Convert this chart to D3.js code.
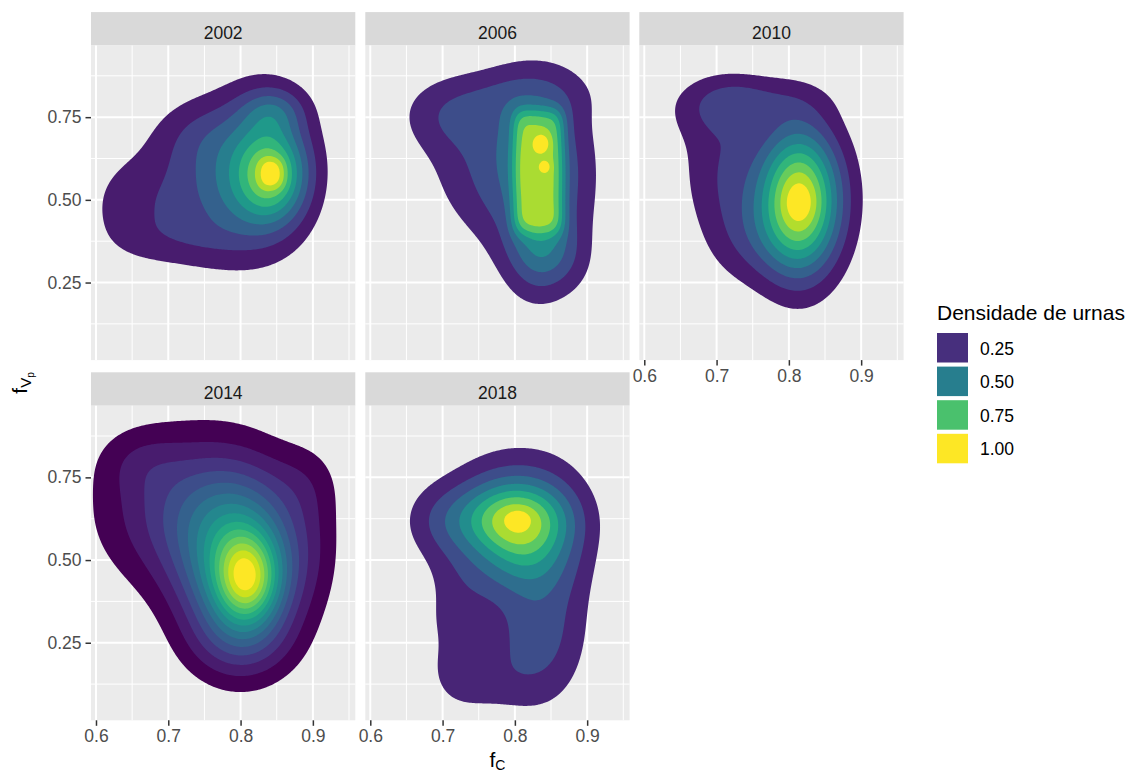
<!DOCTYPE html>
<html><head><meta charset="utf-8">
<script src="https://cdn.jsdelivr.net/npm/d3@7"></script>
<style>
body{margin:0;background:#fff}
text{font-family:"Liberation Sans",Arial,sans-serif}
</style>
</head><body>
<svg id="chart" width="1129" height="773"></svg>
<script>
// ---------------- data ----------------
const years = ["2002", "2006", "2010", "2014", "2018"];
// number of filled density bands drawn in each facet
const bandCounts = [9, 8, 9, 14, 8];
// round clusters of ballot boxes: [fC centre, fVp centre, spread fC, spread fVp, weight]
const clusters2002 = [
  [0.845, 0.575, 0.032, 0.095, 0.50],
  [0.83, 0.60, 0.05, 0.16, 0.42],
  [0.76, 0.52, 0.06, 0.15, 0.25],
  [0.845, 0.77, 0.03, 0.05, 0.22],
  [0.65, 0.48, 0.05, 0.12, 0.15],
  [0.74, 0.70, 0.045, 0.08, 0.12],
  [0.72, 0.38, 0.06, 0.05, 0.065]
];
const clusters2006 = [
  [0.83, 0.58, 0.05, 0.20, 0.35],
  [0.755, 0.60, 0.06, 0.15, 0.18],
  [0.82, 0.82, 0.06, 0.06, 0.13],
  [0.71, 0.76, 0.05, 0.08, 0.18],
  [0.835, 0.36, 0.03, 0.07, 0.28],
  [0.83, 0.25, 0.03, 0.07, 0.08],
  [0.88, 0.55, 0.03, 0.20, 0.05],
  [0.875, 0.30, 0.03, 0.07, 0.06],
  [0.837, 0.672, 0.008, 0.02, 0.20],
  [0.842, 0.60, 0.005, 0.012, 0.16]
];
const clusters2010 = [
  [0.815, 0.495, 0.038, 0.15, 0.80],
  [0.80, 0.51, 0.07, 0.18, 0.12],
  [0.816, 0.49, 0.015, 0.04, 0.06],
  [0.705, 0.60, 0.04, 0.14, 0.14],
  [0.685, 0.77, 0.045, 0.07, 0.10],
  [0.77, 0.80, 0.06, 0.05, 0.08],
  [0.73, 0.82, 0.04, 0.05, 0.08],
  [0.74, 0.38, 0.04, 0.10, 0.10]
];
const clusters2014 = [
  [0.81, 0.44, 0.03, 0.09, 0.35],
  [0.80, 0.47, 0.055, 0.17, 0.45],
  [0.735, 0.65, 0.085, 0.16, 0.21],
  [0.90, 0.55, 0.03, 0.15, 0.04],
  [0.80, 0.25, 0.05, 0.08, 0.08],
  [0.66, 0.80, 0.04, 0.07, 0.05],
  [0.89, 0.74, 0.035, 0.08, 0.04]
];
const clusters2018 = [
  [0.80, 0.625, 0.048, 0.07, 0.40],
  [0.80, 0.62, 0.06, 0.13, 0.40],
  [0.815, 0.50, 0.04, 0.08, 0.15],
  [0.825, 0.25, 0.045, 0.14, 0.21],
  [0.72, 0.18, 0.04, 0.12, 0.12],
  [0.77, 0.13, 0.04, 0.06, 0.05],
  [0.70, 0.62, 0.04, 0.08, 0.15],
  [0.73, 0.44, 0.04, 0.08, 0.09],
  [0.71, 0.33, 0.03, 0.06, 0.04],
  [0.86, 0.45, 0.04, 0.20, 0.10],
  [0.805, 0.627, 0.01, 0.015, 0.08]
];
// evenly spread blocks of ballot boxes: [fC from, fC to, fVp from, fVp to, edge fC, edge fVp, weight]
const blocks2002 = [[0.829, 0.859, 0.54, 0.62, 0.008, 0.018, 0.21]];
const blocks2006 = [[0.799, 0.866, 0.405, 0.768, 0.009, 0.028, 0.52]];
const blocksByYear = [blocks2002, blocks2006, [], [], []];
const clustersByYear = [clusters2002, clusters2006, clusters2010, clusters2014, clusters2018];
const xTicks = [0.6, 0.7, 0.8, 0.9];
const xMinor = [0.65, 0.75, 0.85, 0.95];
const yTicks = [0.25, 0.5, 0.75];
const yMinor = [0.125, 0.375, 0.625, 0.875];
const legendValues = [0.25, 0.5, 0.75, 1.0];
const legendTitle = "Densidade de urnas";

// ---------------- layout ----------------
const svg = d3.select("#chart");
const colLeft = [91, 365.3, 639.3];
const rowTop = [45.5, 405.7];
const panelW = 264.3, panelH = 314.6, stripH = 33.4;
const xDomain = [0.5931, 0.9587];
const yDomain = [0.0155, 0.9667];
const tickFont = 17.5, titleFont = 21;

// colour: normalised level of each band
const nlevels = bandCounts.map(K => d3.range(1, K + 1).map(k => (k + 1) / (K + 1)));
const minLevel = d3.min(nlevels.flat());
const color = d3.scaleSequential(d3.interpolateViridis).domain([minLevel, 1]);

function erf(z) {
  const s = z < 0 ? -1 : 1; z = Math.abs(z);
  const t = 1 / (1 + 0.3275911 * z);
  const p = t * (0.254829592 + t * (-0.284496736 + t * (1.421413741 + t * (-1.453152027 + t * 1.061405429))));
  return s * (1 - p * Math.exp(-z * z));
}
const Phi = z => 0.5 * (1 + erf(z / Math.SQRT2));

function dens(comps, blocks, x, y) {
  let s = 0;
  for (const [cx, cy, sx, sy, w] of comps) {
    const dx = (x - cx) / sx, dy = (y - cy) / sy;
    s += w * Math.exp(-0.5 * (dx * dx + dy * dy));
  }
  for (const [x0, x1, y0, y1, bx, by, w] of blocks) {
    s += w * (Phi((x - x0) / bx) - Phi((x - x1) / bx)) * (Phi((y - y0) / by) - Phi((y - y1) / by));
  }
  return s;
}

years.forEach((yr, i) => {
  const col = i % 3, row = Math.floor(i / 3);
  const left = colLeft[col], top = rowTop[row];
  const x = d3.scaleLinear().domain(xDomain).range([0, panelW]);
  const y = d3.scaleLinear().domain(yDomain).range([panelH, 0]);

  // strip
  svg.append("rect").attr("x", left).attr("y", top - stripH).attr("width", panelW).attr("height", stripH).attr("fill", "#D9D9D9");
  svg.append("text").attr("x", left + panelW / 2).attr("y", top - 7).attr("text-anchor", "middle")
    .attr("font-size", tickFont).attr("fill", "#1A1A1A").text(yr);

  const g = svg.append("g").attr("transform", `translate(${left},${top})`);
  g.append("rect").attr("width", panelW).attr("height", panelH).attr("fill", "#EBEBEB");
  xMinor.forEach(v => g.append("line").attr("x1", x(v)).attr("x2", x(v)).attr("y1", 0).attr("y2", panelH).attr("stroke", "#fff").attr("stroke-width", 1));
  yMinor.forEach(v => g.append("line").attr("y1", y(v)).attr("y2", y(v)).attr("x1", 0).attr("x2", panelW).attr("stroke", "#fff").attr("stroke-width", 1));
  xTicks.forEach(v => g.append("line").attr("x1", x(v)).attr("x2", x(v)).attr("y1", 0).attr("y2", panelH).attr("stroke", "#fff").attr("stroke-width", 2));
  yTicks.forEach(v => g.append("line").attr("y1", y(v)).attr("y2", y(v)).attr("x1", 0).attr("x2", panelW).attr("stroke", "#fff").attr("stroke-width", 2));

  // density grid
  const step = 1.5;
  const nx = Math.ceil(panelW / step), ny = Math.ceil(panelH / step);
  const comps = clustersByYear[i], blocks = blocksByYear[i];
  const vals = new Float64Array(nx * ny);
  for (let j = 0; j < ny; j++) for (let k = 0; k < nx; k++) {
    vals[j * nx + k] = dens(comps, blocks, x.invert((k + 0.5) * step), y.invert((j + 0.5) * step));
  }
  const mx = d3.max(vals);
  for (let q = 0; q < vals.length; q++) vals[q] /= mx;
  const K = bandCounts[i];
  const thresholds = d3.range(1, K + 1).map(k => k / (K + 1));
  const contours = d3.contours().size([nx, ny]).thresholds(thresholds)(vals);
  const path = d3.geoPath(d3.geoTransform({ point(px, py) { this.stream.point(px * step, py * step); } }));
  g.selectAll("path.band").data(contours).join("path").attr("class", "band")
    .attr("d", path).attr("fill", (d, idx) => color(nlevels[i][idx]));

  // axes
  const bottomAxis = (row === 1) || (col === 2);
  if (bottomAxis) {
    const ax = g.append("g").attr("transform", `translate(0,${panelH})`)
      .call(d3.axisBottom(x).tickValues(xTicks).tickSize(5.5).tickPadding(4).tickFormat(d3.format(".1f")));
    ax.select(".domain").remove();
    ax.selectAll("line").attr("stroke", "#333").attr("stroke-width", 1.5);
    ax.selectAll("text").attr("font-size", tickFont).attr("fill", "#4D4D4D").attr("font-family", null);
  }
  if (col === 0) {
    const ay = g.append("g")
      .call(d3.axisLeft(y).tickValues(yTicks).tickSize(5.5).tickPadding(4).tickFormat(d3.format(".2f")));
    ay.select(".domain").remove();
    ay.selectAll("line").attr("stroke", "#333").attr("stroke-width", 1.5);
    ay.selectAll("text").attr("font-size", tickFont).attr("fill", "#4D4D4D").attr("font-family", null);
  }
});

// axis titles
const xt = svg.append("text").attr("x", 497.5).attr("y", 767).attr("text-anchor", "middle").attr("font-size", titleFont).attr("fill", "#000");
xt.append("tspan").text("f");
xt.append("tspan").attr("font-size", 14).attr("dy", 3).text("C");
const yt = svg.append("text").attr("transform", "translate(27,383) rotate(-90)").attr("text-anchor", "middle").attr("font-size", titleFont).attr("fill", "#000");
yt.append("tspan").text("f");
yt.append("tspan").attr("font-size", 15).attr("dy", 4).text("V");
yt.append("tspan").attr("font-size", 10).attr("dy", 3).text("p");

// legend
const lg = svg.append("g").attr("transform", "translate(937,0)");
lg.append("text").attr("x", 0).attr("y", 319.5).attr("font-size", titleFont).attr("fill", "#000").text(legendTitle);
const keyTop = 333, keyStep = 33.6, keySize = 31;
legendValues.forEach((v, k) => {
  lg.append("rect").attr("x", 0).attr("y", keyTop + k * keyStep).attr("width", keySize).attr("height", keySize - 1.5).attr("fill", color(v));
  lg.append("text").attr("x", 43).attr("y", keyTop + k * keyStep + keySize / 2).attr("dy", "0.35em")
    .attr("font-size", tickFont).attr("fill", "#000").text(d3.format(".2f")(v));
});
</script>
</body></html>
